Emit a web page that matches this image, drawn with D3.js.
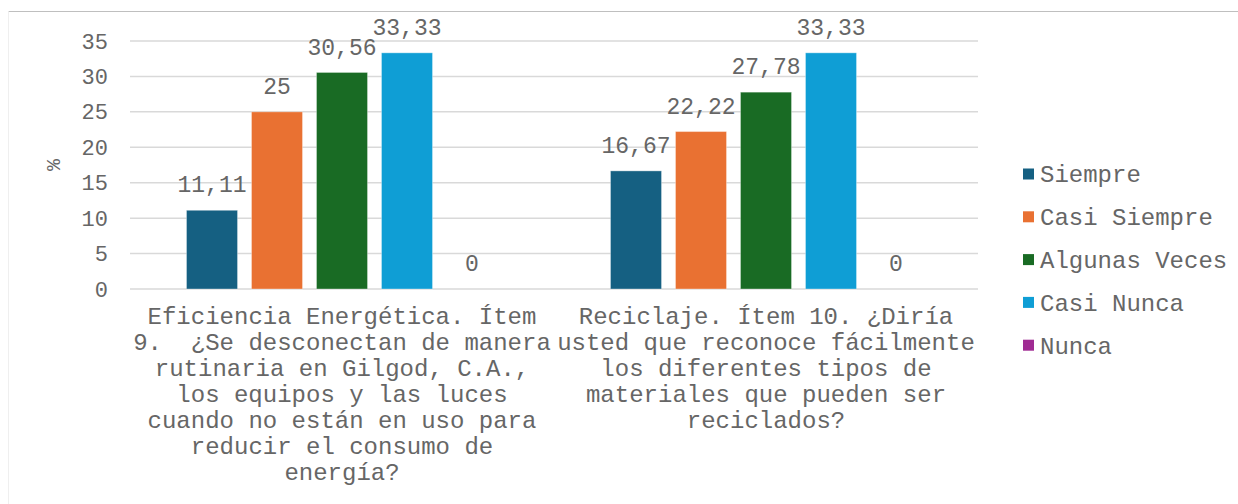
<!DOCTYPE html>
<html><head><meta charset="utf-8">
<script src="https://cdn.jsdelivr.net/npm/d3@7"></script>
<style>body{margin:0;background:#fff}svg{display:block}text{font-family:"Courier New","Liberation Mono",monospace;fill:#666666}</style>
</head><body><svg id="c" width="1238" height="504"></svg>
<script>
const categories = [
  ["Eficiencia Energética. Ítem","9.  ¿Se desconectan de manera","rutinaria en Gilgod, C.A.,","los equipos y las luces","cuando no están en uso para","reducir el consumo de","energía?"],
  ["Reciclaje. Ítem 10. ¿Diría","usted que reconoce fácilmente","los diferentes tipos de","materiales que pueden ser","reciclados?"]
];
const categoryKeys = ["Eficiencia", "Reciclaje"];
const series = ["Siempre","Casi Siempre","Algunas Veces","Casi Nunca","Nunca"];
const colors = ["#156082","#E97132","#196B24","#0F9ED5","#A02B93"];
const values = [
  [11.11, 25, 30.56, 33.33, 0],
  [16.67, 22.22, 27.78, 33.33, 0]
];
const labels = [
  ["11,11","25","30,56","33,33","0"],
  ["16,67","22,22","27,78","33,33","0"]
];
const yTicks = [0,5,10,15,20,25,30,35];

const svg = d3.select("#c");
// frame lines
svg.append("line").attr("x1",8.5).attr("x2",1238).attr("y1",11.5).attr("y2",11.5).attr("stroke","#bfbfbf").attr("stroke-width",1);
svg.append("line").attr("x1",8.5).attr("x2",8.5).attr("y1",11.5).attr("y2",504).attr("stroke","#efefef").attr("stroke-width",1);

const L=130, R=978, T=41, B=289;
const y = d3.scaleLinear().domain([0,35]).range([B,T]);
const x0 = d3.scaleBand().domain(categoryKeys).range([L,R]).paddingInner(0.2335).paddingOuter(0.11675);
const x1 = d3.scaleBand().domain(series).range([0,x0.bandwidth()]).paddingInner(0.215).paddingOuter(0.1075);

// gridlines
svg.append("g").selectAll("line").data(yTicks).join("line")
  .attr("x1",L).attr("x2",R).attr("y1",d=>y(d)).attr("y2",d=>y(d))
  .attr("stroke","#d9d9d9").attr("stroke-width",1.5);

// y axis labels
const yAxis = d3.axisLeft(y).tickValues(yTicks).tickSize(0).tickPadding(0).tickFormat(d=>String(d));
const ga = svg.append("g").attr("transform",`translate(108,0)`).call(yAxis);
ga.select(".domain").remove();
ga.selectAll("text").attr("font-family",null).attr("font-size",22).attr("fill","#666666").attr("dy","0.32em");

svg.append("text").attr("transform","translate(60,165) rotate(-90)").attr("text-anchor","middle")
  .attr("font-size",20).text("%");

// bars
categoryKeys.forEach((c,ci)=>{
  const g = svg.append("g").attr("transform",`translate(${x0(c)},0)`);
  g.selectAll("rect").data(series.map((s,si)=>({s,si,v:values[ci][si]}))).join("rect")
    .attr("x",d=>x1(d.s)).attr("width",x1.bandwidth())
    .attr("y",d=>y(d.v)).attr("height",d=>B-y(d.v))
    .attr("fill",(d)=>colors[d.si]).attr("stroke","#ffffff").attr("stroke-opacity",0.35).attr("stroke-width",1);
  g.selectAll("text.lbl").data(series.map((s,si)=>({s,si,v:values[ci][si]}))).join("text").attr("class","lbl")
    .attr("x",d=>x1(d.s)+x1.bandwidth()/2).attr("y",d=>y(d.v)-26).attr("dy","0.35em")
    .attr("text-anchor","middle").attr("font-size",23).text(d=>labels[ci][d.si]);
  // category label
  const t = svg.append("text").attr("text-anchor","middle").attr("font-size",24).attr("xml:space","preserve");
  categories[ci].forEach((line,li)=>{
    t.append("tspan").attr("x",x0(c)+x0.bandwidth()/2).attr("y",316+li*26).attr("dy","0.35em").text(line);
  });
});

// legend
const lg = svg.append("g");
series.forEach((s,i)=>{
  const cy = 174 + i*42.8;
  lg.append("rect").attr("x",1023).attr("y",cy-5.5).attr("width",11).attr("height",11).attr("fill",colors[i]);
  lg.append("text").attr("x",1040).attr("y",cy).attr("dy","0.35em").attr("font-size",24).text(s);
});
</script></body></html>
